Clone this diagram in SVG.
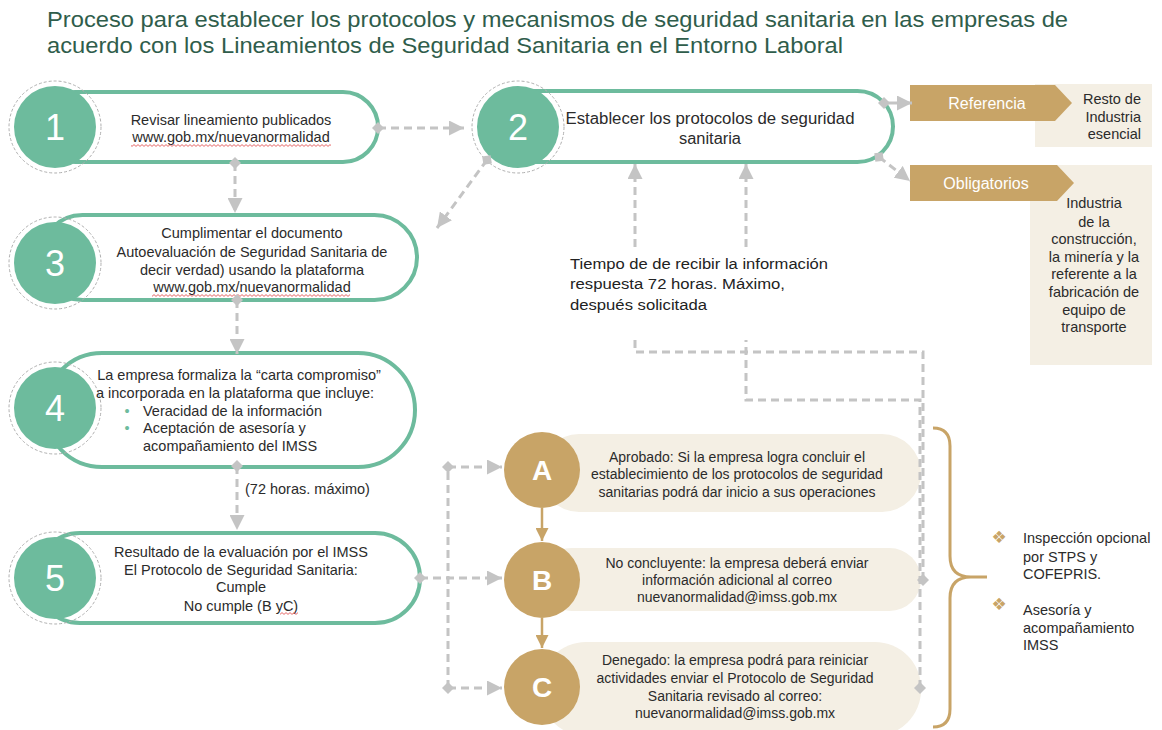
<svg xmlns="http://www.w3.org/2000/svg" width="1162" height="730" viewBox="0 0 1162 730">
<defs>
<style>
.t{font-family:"Liberation Sans",Arial,sans-serif;fill:#2b2b2b;font-size:14.5px;text-anchor:middle}
.s{text-anchor:start}
.e{text-anchor:end}
.title{font-family:"Liberation Sans",Arial,sans-serif;fill:#2f5d4b;font-size:22px}
.pill{fill:#fff;stroke:#6dbb9d;stroke-width:4}
.ring{fill:none;stroke:#b0b0b0;stroke-width:1;stroke-dasharray:3 2}
.gc{fill:#6dbb9d}
.num{font-family:"Liberation Sans",Arial,sans-serif;fill:#fff;font-size:36px;text-anchor:middle}
.bp{fill:#f4efe4}
.gold{fill:#c8a467}
.let{font-family:"Liberation Sans",Arial,sans-serif;fill:#fff;font-size:28px;font-weight:bold;text-anchor:middle}
.wt{font-family:"Liberation Sans",Arial,sans-serif;fill:#fff;font-size:16px;text-anchor:middle}
.bul{font-family:"DejaVu Sans",sans-serif;font-size:17px;fill:#c8a467;text-anchor:middle}
.cn{fill:none;stroke:#c4c4c4;stroke-width:3;stroke-dasharray:8 5}
.cs{fill:none;stroke:#c4c4c4;stroke-width:3}
.ga{fill:none;stroke:#c8a467;stroke-width:2.5}
.sq{fill:url(#squig)}
</style>
<marker id="ah" viewBox="0 0 10 10" refX="10" refY="5" markerWidth="15" markerHeight="15" markerUnits="userSpaceOnUse" orient="auto">
<path d="M0 0 L10 5 L0 10 Z" fill="#c4c4c4"/>
</marker>
<marker id="dm" viewBox="0 0 10 10" refX="5" refY="5" markerWidth="12" markerHeight="12" markerUnits="userSpaceOnUse" orient="auto">
<path d="M5 0 L10 5 L5 10 L0 5 Z" fill="#c4c4c4"/>
</marker>
<marker id="gah" viewBox="0 0 10 10" refX="10" refY="5" markerWidth="13" markerHeight="13" markerUnits="userSpaceOnUse" orient="auto">
<path d="M0 0 L10 5 L0 10 Z" fill="#c8a467"/>
</marker>
<pattern id="squig" width="4" height="3" patternUnits="userSpaceOnUse">
<path d="M0 2.4 L2 0.6 L4 2.4" stroke="#e04040" stroke-width="0.8" fill="none"/>
</pattern>
</defs>
<rect width="1162" height="730" fill="#fff"/>

<g id="title">
<text class="title" x="47" y="27" textLength="1021" lengthAdjust="spacingAndGlyphs">Proceso para establecer los protocolos y mecanismos de seguridad sanitaria en las empresas de</text>
<text class="title" x="47" y="53" textLength="796" lengthAdjust="spacingAndGlyphs">acuerdo con los Lineamientos de Seguridad Sanitaria en el Entorno Laboral</text>
</g>

<g id="side-boxes">
<g id="referencia">
<rect class="bp" x="1035" y="84" width="117" height="63"/>
<path class="gold" d="M910 85 H1055 L1072 103 L1055 121 H910 Z"/>
<text class="wt" x="987" y="109">Referencia</text>
<text class="t e" x="1141" y="104">Resto de</text>
<text class="t e" x="1141" y="122">Industria</text>
<text class="t e" x="1141" y="139">esencial</text>
</g>
<g id="obligatorios">
<rect class="bp" x="1030" y="165" width="122" height="200"/>
<path class="gold" d="M910 165 H1057 L1074 183 L1057 201 H910 Z"/>
<text class="wt" x="986" y="189">Obligatorios</text>
<text class="t" x="1094" y="208">Industria</text>
<text class="t" x="1094" y="227">de la</text>
<text class="t" x="1094" y="244">construcción,</text>
<text class="t" x="1094" y="262">la minería y la</text>
<text class="t" x="1094" y="279">referente a la</text>
<text class="t" x="1094" y="297">fabricación de</text>
<text class="t" x="1094" y="315">equipo de</text>
<text class="t" x="1094" y="332">transporte</text>
</g>
</g>

<g id="node1">
<rect class="pill" x="40" y="92" width="338" height="70" rx="35"/>
<circle class="ring" cx="55" cy="127" r="46"/>
<circle class="gc" cx="55" cy="127" r="41"/>
<text class="num" x="55" y="140">1</text>
<text class="t" x="231" y="125">Revisar lineamiento publicados</text>
<text class="t" x="231" y="142">www.gob.mx/nuevanormalidad</text>
<rect class="sq" x="131" y="144" width="200" height="3"/>
</g>

<g id="node2">
<rect class="pill" x="490" y="91" width="403" height="71" rx="35.5"/>
<circle class="ring" cx="518" cy="127" r="46"/>
<circle class="gc" cx="518" cy="127" r="41"/>
<text class="num" x="518" y="140">2</text>
<text class="t" x="710" y="124" style="font-size:16px" textLength="289" lengthAdjust="spacingAndGlyphs">Establecer los protocolos de seguridad</text>
<text class="t" x="710" y="144" style="font-size:16px" textLength="62" lengthAdjust="spacingAndGlyphs">sanitaria</text>
</g>

<g id="node3">
<rect class="pill" x="40" y="215" width="377" height="85" rx="42.5"/>
<circle class="ring" cx="55" cy="263" r="46"/>
<circle class="gc" cx="55" cy="263" r="41"/>
<text class="num" x="55" y="276">3</text>
<text class="t" x="252" y="238">Cumplimentar el documento</text>
<text class="t" x="252" y="257">Autoevaluación de Seguridad Sanitaria de</text>
<text class="t" x="252" y="275">decir verdad) usando la plataforma</text>
<text class="t" x="252" y="292">www.gob.mx/nuevanormalidad</text>
<rect class="sq" x="152" y="294" width="198" height="3"/>
</g>

<g id="node4">
<rect class="pill" x="45" y="353" width="370" height="114" rx="57"/>
<circle class="ring" cx="55" cy="408" r="46"/>
<circle class="gc" cx="55" cy="408" r="41"/>
<text class="num" x="55" y="421">4</text>
<text class="t" x="239" y="380">La empresa formaliza la “carta compromiso”</text>
<text class="t" x="235" y="398">a incorporada en la plataforma que incluye:</text>
<text class="t" x="127" y="416" style="fill:#6dbb9d">•</text>
<text class="t s" x="143" y="416">Veracidad de la información</text>
<text class="t" x="127" y="433" style="fill:#6dbb9d">•</text>
<text class="t s" x="143" y="433">Aceptación de asesoría y</text>
<text class="t s" x="143" y="451">acompañamiento del IMSS</text>
</g>

<g id="label-72">
<text class="t s" x="245" y="494">(72 horas. máximo)</text>
</g>

<g id="node5">
<rect class="pill" x="35" y="533" width="385" height="90" rx="45"/>
<circle class="ring" cx="55" cy="578" r="46"/>
<circle class="gc" cx="55" cy="578" r="41"/>
<text class="num" x="55" y="591">5</text>
<text class="t" x="241" y="557">Resultado de la evaluación por el IMSS</text>
<text class="t" x="241" y="575">El  Protocolo de Seguridad Sanitaria:</text>
<text class="t" x="241" y="592">Cumple</text>
<text class="t" x="241" y="611">No cumple (B yC)</text>
<rect class="sq" x="280" y="612" width="18" height="3"/>
</g>

<g id="label-tiempo">
<text class="t s" x="570" y="269" style="font-size:15.5px;fill:#222" textLength="258" lengthAdjust="spacingAndGlyphs">Tiempo de de recibir la información</text>
<text class="t s" x="570" y="289" style="font-size:15.5px;fill:#222" textLength="215" lengthAdjust="spacingAndGlyphs">respuesta 72 horas. Máximo,</text>
<text class="t s" x="570" y="310" style="font-size:15.5px;fill:#222" textLength="137" lengthAdjust="spacingAndGlyphs">después solicitada</text>
</g>

<g id="nodeA">
<rect class="bp" x="540" y="434" width="381" height="78" rx="39"/>
<circle class="gold" cx="542" cy="470" r="38"/>
<text class="let" x="542" y="480">A</text>
<text class="t" x="737" y="462" style="font-size:14px">Aprobado: Si la empresa logra concluir el</text>
<text class="t" x="737" y="479" style="font-size:14px">establecimiento de los protocolos de seguridad</text>
<text class="t" x="737" y="497" style="font-size:14px">sanitarias podrá dar inicio a sus operaciones</text>
</g>

<g id="nodeB">
<rect class="bp" x="540" y="548" width="381" height="63" rx="31.5"/>
<circle class="gold" cx="542" cy="580" r="38"/>
<text class="let" x="542" y="590">B</text>
<text class="t" x="737" y="568" style="font-size:14px">No concluyente: la empresa deberá enviar</text>
<text class="t" x="737" y="585" style="font-size:14px">información adicional al correo</text>
<text class="t" x="737" y="602" style="font-size:14px">nuevanormalidad@imss.gob.mx</text>
</g>

<g id="nodeC">
<rect class="bp" x="540" y="642" width="381" height="94" rx="46"/>
<circle class="gold" cx="542" cy="687" r="38"/>
<text class="let" x="542" y="697">C</text>
<text class="t" x="735" y="665" style="font-size:14px">Denegado: la empresa podrá para reiniciar</text>
<text class="t" x="735" y="683" style="font-size:14px">actividades enviar el Protocolo de Seguridad</text>
<text class="t" x="735" y="701" style="font-size:14px">Sanitaria revisado al correo:</text>
<text class="t" x="735" y="718" style="font-size:14px">nuevanormalidad@imss.gob.mx</text>
</g>

<g id="brace-notes">
<path d="M933 428 Q950 428 950 446 L950 556 Q950 577 971 577 L987 577 M971 577 Q950 577 950 598 L950 709 Q950 727 933 727" fill="none" stroke="#c8a467" stroke-width="3"/>
<text class="bul" x="999" y="543">❖</text>
<text class="t s" x="1023" y="543">Inspección opcional</text>
<text class="t s" x="1023" y="562">por STPS y</text>
<text class="t s" x="1023" y="579">COFEPRIS.</text>
<text class="bul" x="999" y="610">❖</text>
<text class="t s" x="1023" y="615">Asesoría y</text>
<text class="t s" x="1023" y="633">acompañamiento</text>
<text class="t s" x="1023" y="650">IMSS</text>
</g>

<g id="connectors">
<path class="cn" d="M378 128 H464" marker-start="url(#dm)" marker-end="url(#ah)"/>
<path class="cn" d="M235 163 V213" marker-start="url(#dm)" marker-end="url(#ah)"/>
<path class="cn" d="M487 160 L437 228" marker-start="url(#dm)" marker-end="url(#ah)"/>
<path class="cn" d="M237 300 V354" marker-start="url(#dm)" marker-end="url(#ah)"/>
<path class="cn" d="M237 466 V530" marker-start="url(#dm)" marker-end="url(#ah)"/>
<path class="cn" d="M420 578 H502" marker-start="url(#dm)" marker-end="url(#ah)"/>
<path class="cn" d="M448 688 V467"/>
<path class="cn" d="M448 467 H502" marker-start="url(#dm)" marker-end="url(#ah)"/>
<path class="cn" d="M448 688 H502" marker-start="url(#dm)" marker-end="url(#ah)"/>
<path class="cs" d="M884 103 H912" marker-start="url(#dm)" marker-end="url(#ah)"/>
<path class="cn" d="M879 157 L910 181" marker-start="url(#dm)" marker-end="url(#ah)"/>
<path class="cn" d="M635 247 V164" marker-end="url(#ah)"/>
<path class="cn" d="M746 247 V164" marker-end="url(#ah)"/>
<path class="cn" d="M923 580 V352 H635 V340" marker-start="url(#dm)"/>
<path class="cn" d="M920 688 V400 H746 V340" marker-start="url(#dm)"/>
<path class="ga" d="M542 508 V541" marker-end="url(#gah)"/>
<path class="ga" d="M542 618 V648" marker-end="url(#gah)"/>
</g>
</svg>
